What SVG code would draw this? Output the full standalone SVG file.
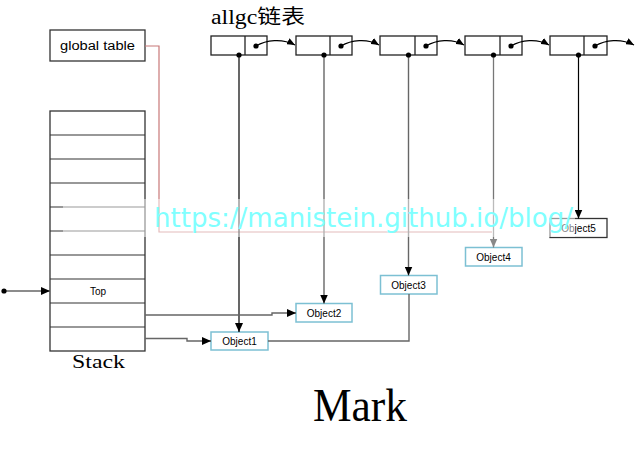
<svg xmlns="http://www.w3.org/2000/svg" width="636" height="453" viewBox="0 0 636 453">
<style>
.box{fill:#fff;stroke:#333;stroke-width:1.3}
.ll{fill:#fff;stroke:#222;stroke-width:1.3}
.obj{fill:#fff;stroke:#7cc0d3;stroke-width:1.5}
.obj5{fill:#fff;stroke:#333;stroke-width:1.3}
.lbl{font-family:"Liberation Sans",Arial,sans-serif;font-size:10px;fill:#000;text-anchor:middle}
.ser{font-family:"Liberation Serif","Noto Sans CJK SC",serif;fill:#000}
.ln{fill:none;stroke:#000;stroke-width:1.2}
.lg{fill:none;stroke:#666;stroke-width:1.4}
.row{stroke:#333;stroke-width:1.2}
</style>
<defs>
<marker id="ah" markerWidth="9" markerHeight="8" refX="9" refY="4" orient="auto" markerUnits="userSpaceOnUse"><path d="M0,0 L9,4 L0,8 Z" fill="#000"/></marker>
<marker id="ahs" markerWidth="8" markerHeight="7" refX="8" refY="3.5" orient="auto" markerUnits="userSpaceOnUse"><path d="M0,0 L8,3.5 L0,7 Z" fill="#000"/></marker>
<marker id="ahg" markerWidth="9" markerHeight="8" refX="9" refY="4" orient="auto" markerUnits="userSpaceOnUse"><path d="M0,0 L9,4 L0,8 Z" fill="#888"/></marker>
</defs>

<text class="ser" x="211" y="24" font-size="20" textLength="94" lengthAdjust="spacingAndGlyphs">allgc链表</text>

<g id="global-table">
<rect class="box" x="50" y="30" width="95" height="31"/>
<text x="97.5" y="50" font-family="Liberation Sans,Arial,sans-serif" font-size="12.5" text-anchor="middle" textLength="75" lengthAdjust="spacingAndGlyphs">global table</text>
</g>

<g id="stack">
<rect class="box" x="50" y="111" width="95" height="240"/>
<line class="row" x1="50" y1="135" x2="145" y2="135"/>
<line class="row" x1="50" y1="159" x2="145" y2="159"/>
<line class="row" x1="50" y1="183" x2="145" y2="183"/>
<line class="row" x1="50" y1="207" x2="145" y2="207"/>
<line class="row" x1="50" y1="231" x2="145" y2="231"/>
<line class="row" x1="50" y1="255" x2="145" y2="255"/>
<line class="row" x1="50" y1="279" x2="145" y2="279"/>
<line class="row" x1="50" y1="303" x2="145" y2="303"/>
<line class="row" x1="50" y1="327" x2="145" y2="327"/>
<text class="lbl" x="98" y="294.5" font-size="9.5">Top</text>
<text class="ser" x="72" y="368" font-size="19" textLength="53" lengthAdjust="spacingAndGlyphs">Stack</text>
</g>

<g id="node1"><rect class="ll" x="211" y="36" width="56" height="19"/><line class="ll" x1="245" y1="36" x2="245" y2="55"/></g>
<g id="node2"><rect class="ll" x="296" y="36" width="56" height="19"/><line class="ll" x1="330" y1="36" x2="330" y2="55"/></g>
<g id="node3"><rect class="ll" x="380" y="36" width="57" height="19"/><line class="ll" x1="415" y1="36" x2="415" y2="55"/></g>
<g id="node4"><rect class="ll" x="465" y="36" width="57" height="19"/><line class="ll" x1="500" y1="36" x2="500" y2="55"/></g>
<g id="node5"><rect class="ll" x="550" y="36" width="57" height="19"/><line class="ll" x1="584" y1="36" x2="584" y2="55"/></g>

<g id="object1"><rect class="obj" x="211" y="332" width="57" height="18"/><text class="lbl" x="239.5" y="344.5">Object1</text></g>
<g id="object2"><rect class="obj" x="296" y="303.5" width="56" height="18.5"/><text class="lbl" x="324" y="316.5">Object2</text></g>
<g id="object3"><rect class="obj" x="380.5" y="275.5" width="56.5" height="18.5"/><text class="lbl" x="408.5" y="288.5">Object3</text></g>
<g id="object4"><rect class="obj" x="465.5" y="247.5" width="56.5" height="18.5"/><text class="lbl" x="493.5" y="260.5">Object4</text></g>
<g id="object5"><rect class="obj5" x="550" y="218.5" width="57" height="19"/><text class="lbl" x="578.5" y="231.5">Object5</text></g>

<g id="connectors">
<polyline points="145,46 159,46 159,232 492,232" fill="none" stroke="#c87878" stroke-width="1.2"/>
<path class="ln" d="M256,46 C266,40 282,38 295,45" marker-end="url(#ahs)"/>
<path class="ln" d="M341,46 C351,40 367,38 379,45" marker-end="url(#ahs)"/>
<path class="ln" d="M426,46 C436,40 452,38 464,45" marker-end="url(#ahs)"/>
<path class="ln" d="M511,46 C521,40 537,38 549,45" marker-end="url(#ahs)"/>
<path class="ln" d="M595,46 C605,40 621,38 634,45" marker-end="url(#ahs)"/>
<circle cx="256" cy="46" r="2.6"/><circle cx="341" cy="46" r="2.6"/><circle cx="426" cy="46" r="2.6"/><circle cx="511" cy="46" r="2.6"/><circle cx="595" cy="46" r="2.6"/>
<line class="ln" x1="239" y1="55" x2="239" y2="332" marker-end="url(#ah)"/>
<line class="lg" x1="324" y1="55" x2="324" y2="303.5" marker-end="url(#ah)"/>
<line class="lg" x1="408.5" y1="55" x2="408.5" y2="275.5" marker-end="url(#ah)"/>
<line x1="493.5" y1="55" x2="493.5" y2="247.5" stroke="#777" stroke-width="1.3" marker-end="url(#ahg)"/>
<line class="ln" x1="578.5" y1="55" x2="578.5" y2="218.5" marker-end="url(#ah)"/>
<circle cx="239" cy="55" r="2.6"/><circle cx="324" cy="55" r="2.6"/><circle cx="408.5" cy="55" r="2.6"/><circle cx="493.5" cy="55" r="2.6"/><circle cx="578.5" cy="55" r="2.6"/>
<polyline class="lg" points="145,315 272,315 272,313 296,313" marker-end="url(#ah)"/>
<polyline class="lg" points="145,338.5 187,338.5 187,341 211,341" marker-end="url(#ah)"/>
<polyline class="lg" points="268,341 409,341 409,294"/>
<line class="lg" x1="4" y1="291" x2="50" y2="291" marker-end="url(#ah)"/>
<circle cx="4" cy="291" r="2.6"/>
</g>

<text class="ser" x="313" y="421" font-size="46" textLength="94" lengthAdjust="spacingAndGlyphs">Mark</text>

<rect x="63" y="199" width="512" height="38" fill="#fff" opacity="0.5"/>
<text x="154" y="227" font-family="DejaVu Sans,Verdana,sans-serif" font-size="27" fill="#80ffff" textLength="419" lengthAdjust="spacingAndGlyphs">https://manistein.github.io/blog/</text>
</svg>
